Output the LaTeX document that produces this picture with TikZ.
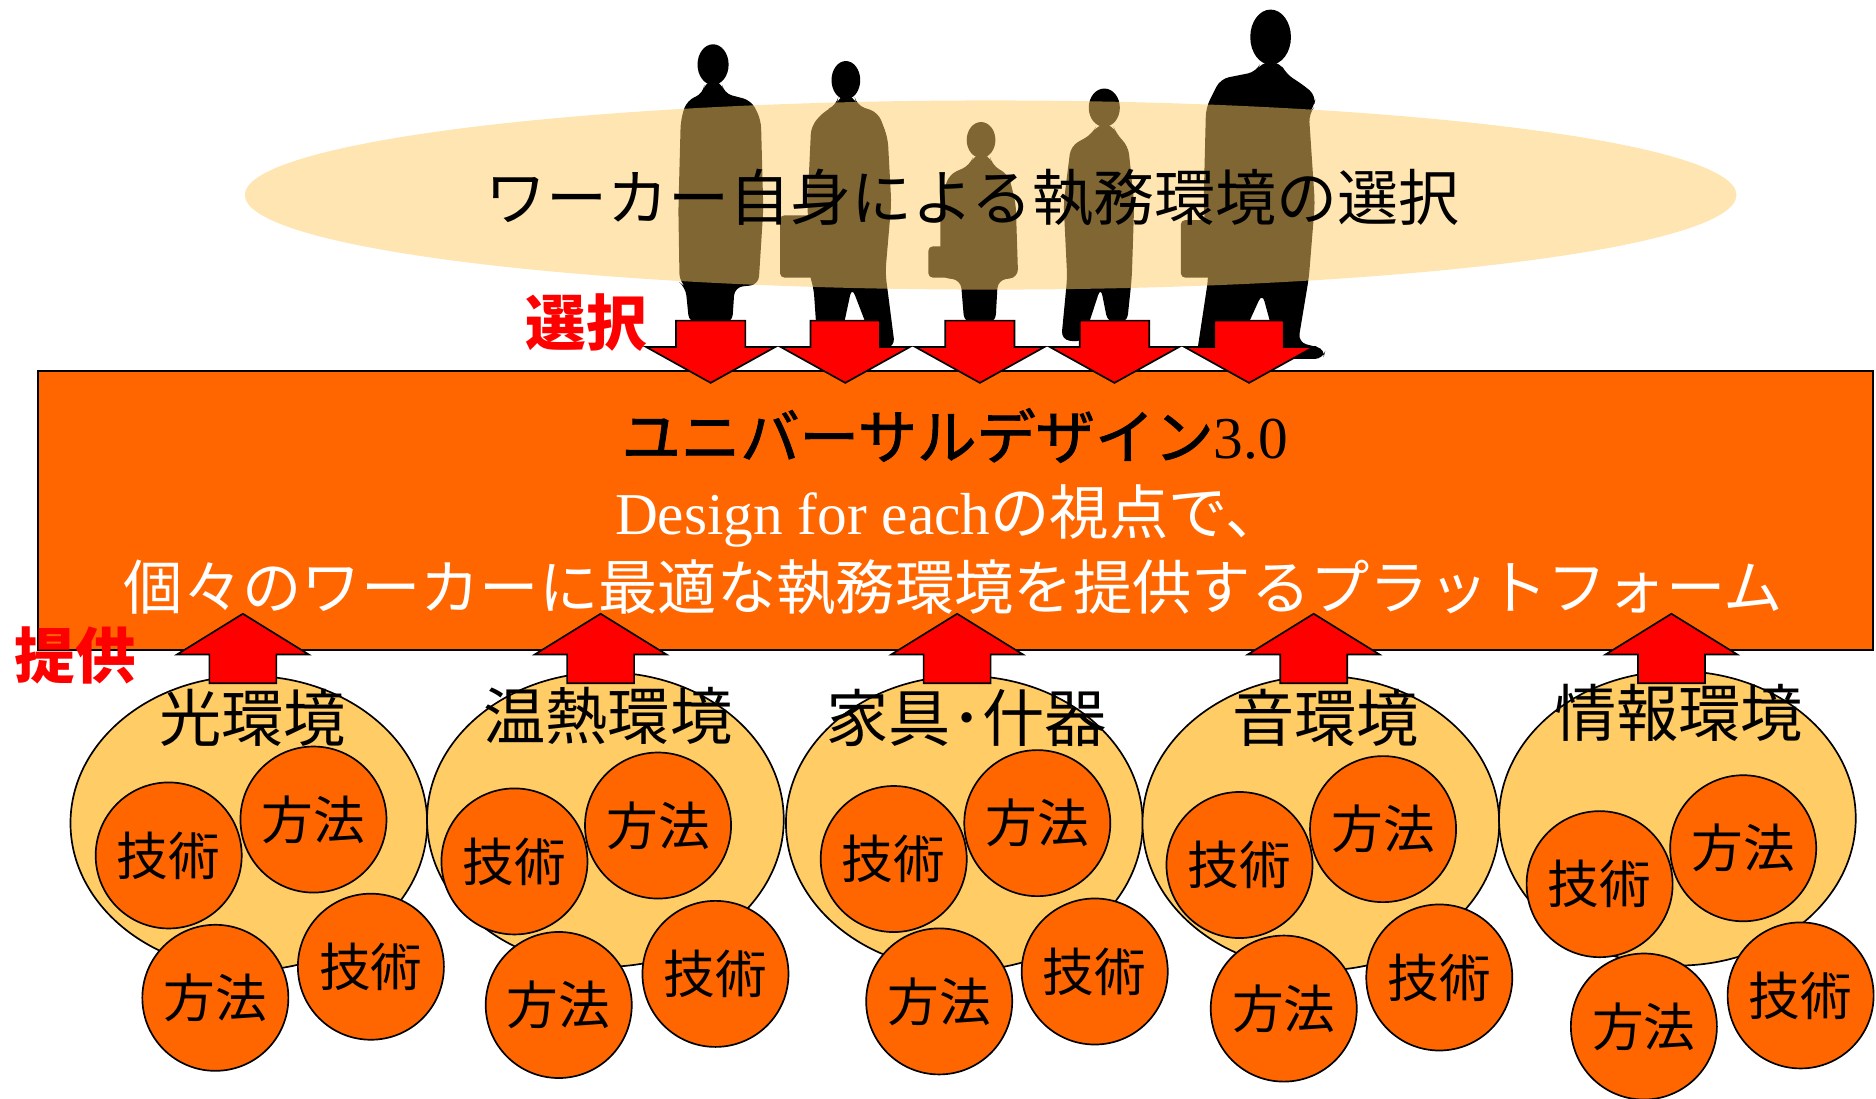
\documentclass[tikz,border=0pt]{standalone}
\usepackage{fontspec}
\setmainfont{Noto Sans CJK JP}
\newfontfamily\tnr{Liberation Serif}
\newfontfamily\jpheavy{Noto Sans CJK JP}[FakeBold=1.6]
\usetikzlibrary{shapes.geometric}
\definecolor{platorange}{RGB}{255,102,0}
\definecolor{envyellow}{RGB}{255,204,102}
\definecolor{arrowred}{RGB}{255,0,0}
\tikzset{
	stage/.style={ellipse, fill=envyellow, fill opacity=0.5, minimum width=12.46cm, minimum height=1.58cm, inner sep=0},
	title/.style={inner sep=0, font=\fontsize{14.5pt}{17pt}\selectfont},
	platform/.style={draw, fill=platorange, minimum width=15.33cm, minimum height=2.33cm, inner sep=0},
	plattext/.style={inner sep=0, font=\fontsize{14.1pt}{17pt}\selectfont},
	env/.style={ellipse, draw, fill=envyellow, minimum width=2.98cm, minimum height=2.46cm, inner sep=0},
	envlabel/.style={inner sep=0, font=\fontsize{14.8pt}{17pt}\selectfont},
	item/.style={circle, draw, fill=platorange, minimum size=1.22cm, inner sep=0, font=\fontsize{12.3pt}{14pt}\selectfont},
	redlabel/.style={inner sep=0, text=arrowred, font=\bfseries\fontsize{14.4pt}{17pt}\selectfont},
	blockarrow/.style={draw, fill=arrowred, line join=miter},
	person/.style={fill=black},
	pics/downarrow/.style={code={
		\draw[blockarrow] (-29,0) -- (29,0) -- (29,22) -- (54,22) -- (0,52) -- (-54,22) -- (-29,22) -- cycle;}},
	pics/uparrow/.style={code={
		\draw[blockarrow] (-28,0) -- (28,0) -- (28,-24) -- (55,-24) -- (0,-58) -- (-55,-24) -- (-28,-24) -- cycle;}}
}

\begin{document}
\begin{tikzpicture}[x=0.01cm, y=-0.01cm]
		\useasboundingbox (0,0) rectangle (1568,918);
		
		% walkers
		\fill[person] (596,54) ellipse [x radius=13, y radius=17];
		\fill[person, rounded corners=2pt] (589,68) -- (603,68) -- (605,78) -- (628,84) -- (636,100) -- (638,175) -- (634,238) -- (614,240) -- (612,270) -- (576,270) -- (573,240) -- (568,236) -- (567,175) -- (569,100) -- (574,84) -- (588,78) -- cycle;
		\fill[person] (707,67) ellipse [x radius=12, y radius=16];
		\fill[person, rounded corners=2pt] (701,80) -- (714,80) -- (716,88) -- (734,94) -- (742,115) -- (745,170) -- (740,228) -- (748,290) -- (732,292) -- (712,240) -- (700,296) -- (684,298) -- (680,240) -- (676,228) -- (675,170) -- (678,105) -- (690,92) -- (699,88) -- cycle;
		\fill[person, rounded corners=1pt] (652,180) rectangle (688,232);
		\fill[person] (820,117) ellipse [x radius=12, y radius=15];
		\fill[person, rounded corners=2pt] (814,129) -- (827,129) -- (829,138) -- (843,146) -- (849,170) -- (851,232) -- (834,234) -- (832,270) -- (806,270) -- (803,234) -- (786,232) -- (786,170) -- (793,146) -- (811,138) -- cycle;
		\fill[person, rounded corners=1pt] (776,206) rectangle (804,232);
		\fill[person] (923,90) ellipse [x radius=13, y radius=16];
		\fill[person, rounded corners=2pt] (917,104) -- (930,104) -- (933,112) -- (943,122) -- (948,170) -- (946,232) -- (942,270) -- (926,270) -- (920,240) -- (905,286) -- (887,284) -- (892,232) -- (889,170) -- (895,122) -- (913,112) -- cycle;
		\fill[person] (1062,31) ellipse [x radius=17, y radius=23];
		\fill[person, rounded corners=2pt] (1054,52) -- (1070,52) -- (1075,62) -- (1088,70) -- (1100,80) -- (1098,90) -- (1094,95) -- (1099,170) -- (1094,232) -- (1085,286) -- (1108,292) -- (1106,300) -- (1070,300) -- (1055,245) -- (1030,300) -- (1000,298) -- (1010,232) -- (1006,170) -- (1008,90) -- (1020,66) -- (1050,60) -- cycle;
		\fill[person, rounded corners=1pt] (987,184) rectangle (1018,232);
		
		\node [stage] (stage) at (828,163) {};
		\node [title] (choice) at (813,165) {ワーカー自身による執務環境の選択};
		
		\node [platform] (platform) at (798.5,426.5) {};
		\node [plattext] (ud) at (798,364) {{\jpheavy ユニバーサルデザイン}{\tnr 3.0}};
		\node [plattext, text=white] (each) at (794,431) {{\tnr Design for each}の視点で、};
		\node [plattext, text=white] (offer) at (797,491) {個々のワーカーに最適な執務環境を提供するプラットフォーム};
		
		\pic at (594,268) {downarrow};
		\pic at (706.5,268) {downarrow};
		\pic at (819,268) {downarrow};
		\pic at (931.5,268) {downarrow};
		\pic at (1044,268) {downarrow};
		\node [redlabel] (sel) at (490,270) {選択};
		
		\node [env] (light) at (208,688) {};
		\node [env] (heat) at (506,685) {};
		\node [env] (furn) at (806,688) {};
		\node [env] (sound) at (1104,688) {};
		\node [env] (info) at (1402,684) {};
		\node [envlabel] at (211,600) (lightlab) {光環境};
		\node [envlabel] at (508,598) (heatlab) {温熱環境};
		\node [envlabel] at (808,600) (furnlab) {家具･什器};
		\node [envlabel] at (1108,600) (soundlab) {音環境};
		\node [envlabel] at (1403,596) (infolab) {情報環境};
		
		\node [item] (l1) at (141,715) {技術};
		\node [item] (l2) at (262,685) {方法};
		\node [item] (l3) at (180,834) {方法};
		\node [item] (l4) at (310,808) {技術};
		\node [item] (h1) at (430,720) {技術};
		\node [item] (h2) at (550,690) {方法};
		\node [item] (h3) at (467,840) {方法};
		\node [item] (h4) at (598,814) {技術};
		\node [item] (f1) at (747,718) {技術};
		\node [item] (f2) at (867,688) {方法};
		\node [item] (f3) at (785,837) {方法};
		\node [item] (f4) at (915,812) {技術};
		\node [item] (s1) at (1036,723) {技術};
		\node [item] (s2) at (1156,693) {方法};
		\node [item] (s3) at (1073,843) {方法};
		\node [item] (s4) at (1203,817) {技術};
		\node [item] (i1) at (1337,739) {技術};
		\node [item] (i2) at (1457,709) {方法};
		\node [item] (i3) at (1374,858) {方法};
		\node [item] (i4) at (1505,832) {技術};
		
		\pic at (203,571) {uparrow};
		\pic at (502,571) {uparrow};
		\pic at (800,571) {uparrow};
		\pic at (1098,571) {uparrow};
		\pic at (1397,571) {uparrow};
		\node [redlabel] (give) at (63,548) {提供};
		
	\end{tikzpicture}
\end{document}
